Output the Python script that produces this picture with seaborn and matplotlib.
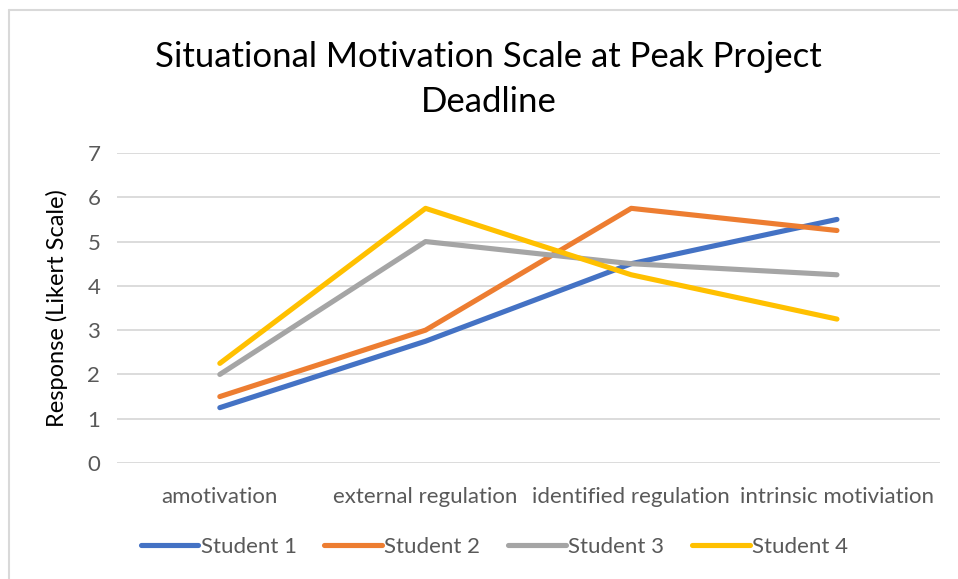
"""Situational Motivation Scale chart, redrawn from an Excel screenshot."""

import matplotlib
matplotlib.use("Agg")
import matplotlib.pyplot as plt
import pandas as pd
import seaborn as sns
from matplotlib.lines import Line2D

categories = ["amotivation", "external regulation", "identified regulation", "intrinsic motiviation"]
student_1 = [1.25, 2.75, 4.5, 5.5]
student_2 = [1.5, 3.0, 5.75, 5.25]
student_3 = [2.0, 5.0, 4.5, 4.25]
student_4 = [2.25, 5.75, 4.25, 3.25]
series_names = ["Student 1", "Student 2", "Student 3", "Student 4"]
colors = ["#4472C4", "#ED7D31", "#A5A5A5", "#FFC000"]

rows = []
for name, vals in zip(series_names, [student_1, student_2, student_3, student_4]):
    for i, v in enumerate(vals):
        rows.append({"student": name, "pos": i, "value": v})
df = pd.DataFrame(rows)

sns.set_theme(style="white")
plt.rcParams["font.family"] = ["Lato", "DejaVu Sans"]

fig = plt.figure(figsize=(9.58, 5.79), dpi=100)
ax = fig.add_axes([0.1221, 0.2003, 0.8589, 0.5355])

sns.lineplot(data=df, x="pos", y="value", hue="student", palette=colors,
             linewidth=3.7, ax=ax, legend=False, solid_capstyle="round")

ax.set_xlim(-0.5, 3.5)
ax.set_ylim(0, 7)
ax.set_yticks(range(8))
ax.set_xticks(range(4))
ax.set_xticklabels(categories)
ax.tick_params(axis="both", labelsize=16, labelcolor="#595959", length=0)
ax.tick_params(axis="y", pad=12)
ax.tick_params(axis="x", pad=17)
ax.yaxis.grid(True, color="#D9D9D9", linewidth=1.3)
ax.set_axisbelow(True)
for s in ax.spines.values():
    s.set_visible(False)
ax.set_xlabel("")
ax.set_ylabel("Response (Likert Scale)", fontsize=17, color="#000000", labelpad=14)

fig.suptitle("Situational Motivation Scale at Peak Project\nDeadline", fontsize=25,
             x=0.51, y=0.93, color="#000000", linespacing=1.5)

handles = [Line2D([0], [0], color=c, linewidth=3.7, solid_capstyle="round") for c in colors]
fig.legend(handles, series_names, loc="center", bbox_to_anchor=(0.516, 0.055), ncol=4,
           frameon=False, fontsize=16, handlelength=2.6, handletextpad=0.1,
           columnspacing=1.25, labelcolor="#595959")

# Excel chart-area border (only top and left edges visible in the crop)
fig.add_artist(Line2D([9 / 958, 9 / 958], [0, 1 - 10 / 579], transform=fig.transFigure,
                      color="#D9D9D9", linewidth=1.5))
fig.add_artist(Line2D([9 / 958, 1], [1 - 10 / 579, 1 - 10 / 579], transform=fig.transFigure,
                      color="#D9D9D9", linewidth=1.5))

fig.savefig("out.png", dpi=100)
